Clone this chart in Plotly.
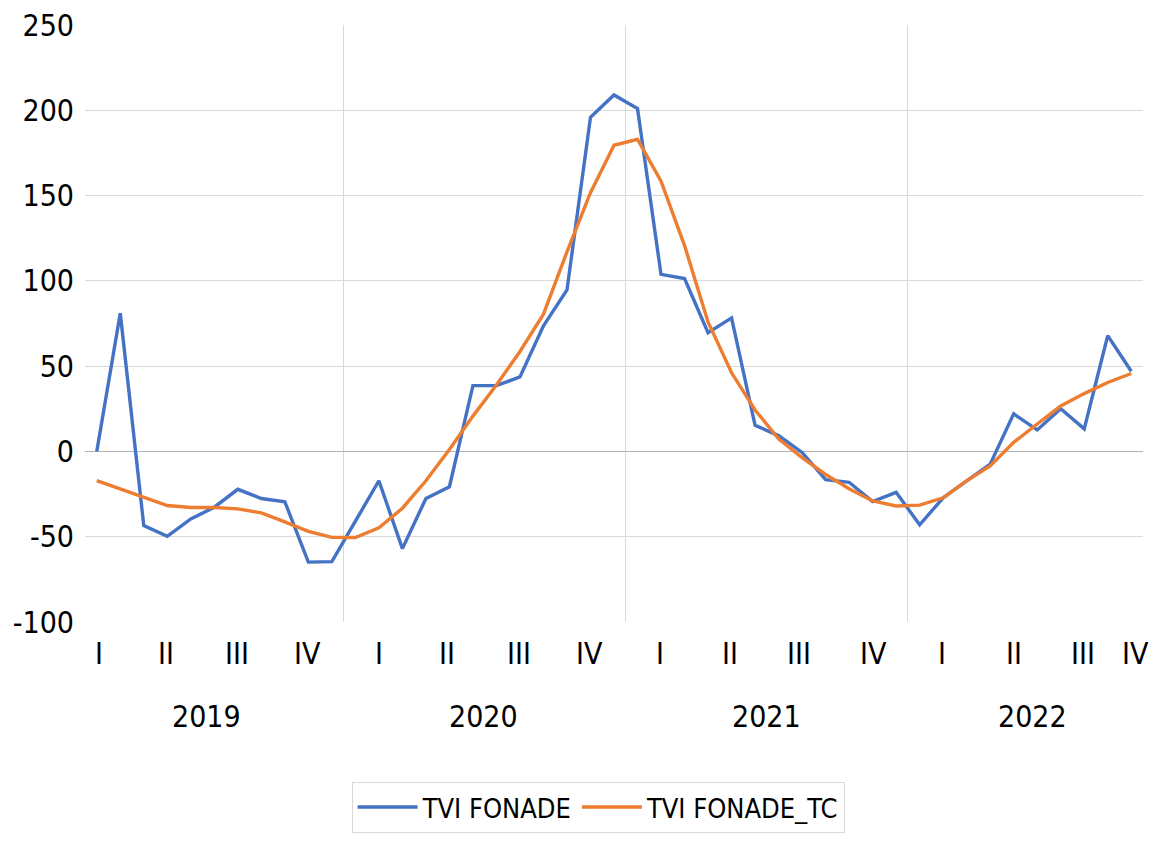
import plotly.graph_objects as go

# ---- data ----
months = list(range(45))  # monthly observations, 2019 -> 2022
tvi_fonade = [0, 81, -43.5, -49.8, -39.6, -32.7, -22.2, -27.6, -29.5, -64.9,
              -64.6, -40.7, -17.2, -57, -27.6, -20.7, 38.6, 38.6, 43.7, 73.6,
              94.7, 195.9, 209, 201, 103.8, 101.4, 69.6, 78.3, 15.3, 9.3,
              -0.6, -16.5, -18.1, -29.4, -24, -43, -27.2, -17.3, -7.5, 22,
              12.6, 25, 13.2, 67.9, 47]
tvi_fonade_tc = [-17.1, -21.9, -27.2, -31.7, -32.9, -32.9, -33.7, -36, -41.3, -46.9,
                 -50.4, -50.5, -44.8, -33.3, -17.2, 1.1, 20.7, 39, 58.6, 80.5,
                 117, 151.7, 179.5, 183, 158.4, 120.7, 75.9, 46.1, 24.3, 7.4,
                 -3.6, -13.5, -21.9, -29, -32, -31.5, -27.2, -17.3, -8.5, 5.3,
                 16.1, 26.6, 33.9, 40.4, 45.7]
quarter_labels = ["I", "II", "III", "IV"] * 4
quarter_pos = [0.1, 2.95, 5.95, 8.95, 12, 14.9, 17.95, 20.95,
               23.95, 26.95, 29.85, 33.05, 35.95, 39.0, 41.95, 44.2]
year_labels = ["2019", "2020", "2021", "2022"]
year_pos = [4.68, 16.47, 28.5, 39.8]
year_bounds = [10.5, 22.5, 34.5]
y_ticks = [-100, -50, 0, 50, 100, 150, 200, 250]
y_ticktext = ["-100", "-50", "0", "50", "100", "150", "200", "250"]

FONT = "DejaVu Sans Condensed, DejaVu Sans, sans-serif"
BLUE = "#4472C4"
ORANGE = "#ED7D31"
LABEL_SIZE = 30

fig = go.Figure()
fig.add_trace(go.Scatter(x=months, y=tvi_fonade, mode="lines", name="TVI FONADE",
                         line=dict(color=BLUE, width=3.4)))
fig.add_trace(go.Scatter(x=months, y=tvi_fonade_tc, mode="lines", name="TVI FONADE_TC",
                         line=dict(color=ORANGE, width=3.4), yaxis="y2"))

annotations = []
for lab, p in zip(quarter_labels, quarter_pos):
    annotations.append(dict(x=p, y=-0.052, xref="x", yref="paper", text=lab,
                            showarrow=False, font=dict(family=FONT, size=LABEL_SIZE, color="#000"),
                            xanchor="center", yanchor="middle"))
for lab, p in zip(year_labels, year_pos):
    annotations.append(dict(x=p, y=-0.159, xref="x", yref="paper", text=lab,
                            showarrow=False, font=dict(family=FONT, size=LABEL_SIZE, color="#000"),
                            xanchor="center", yanchor="middle"))

fig.update_layout(
    width=1151, height=833,
    margin=dict(l=77, r=16, t=17, b=219, autoexpand=False),
    paper_bgcolor="white", plot_bgcolor="white",
    font=dict(family=FONT, size=LABEL_SIZE, color="#000"),
    showlegend=True,
    legend=dict(orientation="h", x=0.485, xanchor="center", y=-0.268, yanchor="top",
                bordercolor="#d9d9d9", borderwidth=1, bgcolor="white",
                font=dict(family=FONT, size=27, color="#000"),
                itemwidth=60),
    xaxis=dict(range=[-0.5, 44.5], tickvals=year_bounds, showticklabels=False,
               showgrid=True, gridcolor="#d9d9d9", gridwidth=1, zeroline=False,
               showline=False, ticks="", automargin=False),
    yaxis=dict(range=[-100, 250], tickvals=y_ticks, ticktext=y_ticktext,
               showgrid=False, zeroline=False, automargin=False,
               showline=False, ticks="", ticklabelstandoff=10,
               ticklabeloverflow="allow",
               tickfont=dict(family=FONT, size=LABEL_SIZE, color="#000")),
    yaxis2=dict(range=[-100, 250], overlaying="y", side="left",
                tickvals=[-50, 50, 100, 150, 200], showticklabels=False,
                showgrid=True, gridcolor="#d9d9d9", gridwidth=1, automargin=False,
                zeroline=True, zerolinecolor="#b3b3b3", zerolinewidth=1.3,
                showline=False, ticks=""),
    annotations=annotations,
)

fig.write_html("out.html")
